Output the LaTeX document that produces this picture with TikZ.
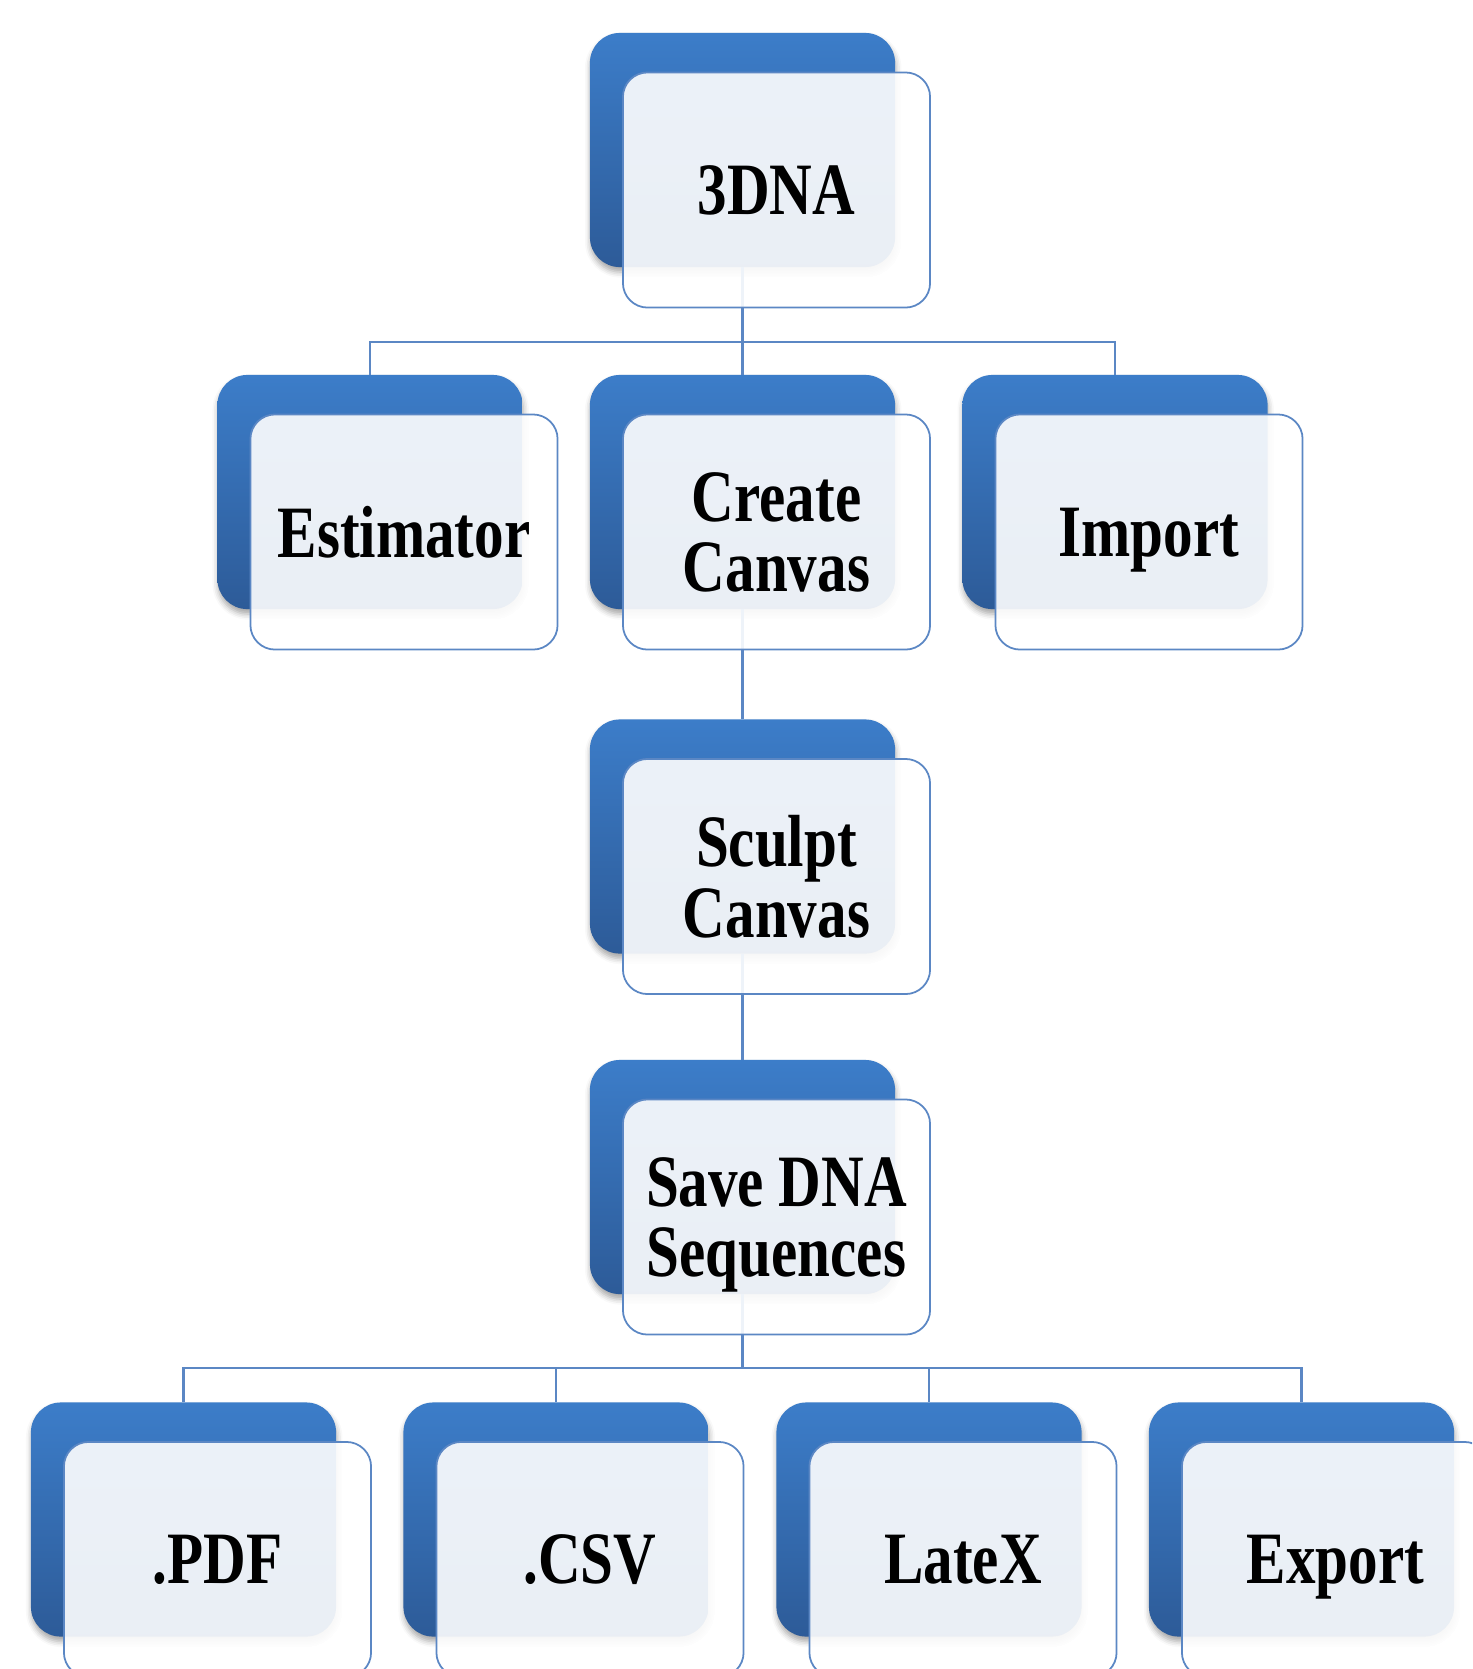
\documentclass[tikz,border=0pt]{standalone}
\usepackage{fontspec}
\usepackage{tikz}
\usetikzlibrary{shadows.blur}
\newfontfamily\tierfont[FakeStretch=0.8]{Liberation Serif}
\definecolor{tiertop}{RGB}{60,125,201}
\definecolor{tierbot}{RGB}{45,91,152}
\definecolor{tierline}{RGB}{91,135,196}
\tikzset{
    backbox/.style={rectangle, rounded corners=8.5pt, inner sep=0pt, outer sep=0pt,
        minimum width=3.05cm, minimum height=2.34cm,
        top color=tiertop, bottom color=tierbot,
        blur shadow={shadow xshift=0.2pt, shadow yshift=-1.4pt, shadow blur radius=1.6pt, shadow opacity=35}},
    frontbox/.style={rectangle, rounded corners=7pt, inner sep=0pt, outer sep=0pt,
        minimum width=3.07cm, minimum height=2.35cm, text depth=0pt,
        draw=tierline, line width=0.5pt, fill=white, fill opacity=0.9, text opacity=1,
        align=center, font=\tierfont\bfseries\fontsize{21}{20}\selectfont},
    link/.style={draw=tierline, line width=0.8pt},
}

\begin{document}
\begin{tikzpicture}[x=0.01cm, y=-0.01cm]
    \clip (0,0) rectangle (1472,1669);
    % back boxes
    \foreach \nd/\x/\y in {dna/742.5/150, est/370/492, cre/742.5/492, imp/1115/492,
        scu/742.5/836.5, sav/742.5/1177,
        pdf/183.5/1519.5, csv/556/1519.5, ltx/929/1519.5, exp/1301.5/1519.5}
        \node[backbox] (\nd) at (\x,\y) {};
    % connectors
    \coordinate (hubA) at (742.5,342);
    \coordinate (hubB) at (742.5,1368);
    \draw[link] (dna.south) -- (hubA) -| (est.north) (hubA) -| (imp.north) (hubA) -- (cre.north);
    \draw[link] (cre.south) -- (scu.north);
    \draw[link] (scu.south) -- (sav.north);
    \draw[link] (sav.south) -- (hubB) -| (pdf.north) (hubB) -| (csv.north)
        (hubB) -| (ltx.north) (hubB) -| (exp.north);
    % front boxes
    \foreach \nd/\txt in {dna/3DNA, est/Estimator, cre/{Create\\Canvas}, imp/Import,
        scu/{Sculpt\\Canvas}, sav/{Save DNA\\Sequences},
        pdf/.PDF, csv/.CSV, ltx/LateX, exp/Export}
        \node[frontbox] (\nd-f) at ([shift={(34,40)}]\nd.center) {\txt};
\end{tikzpicture}
\end{document}
